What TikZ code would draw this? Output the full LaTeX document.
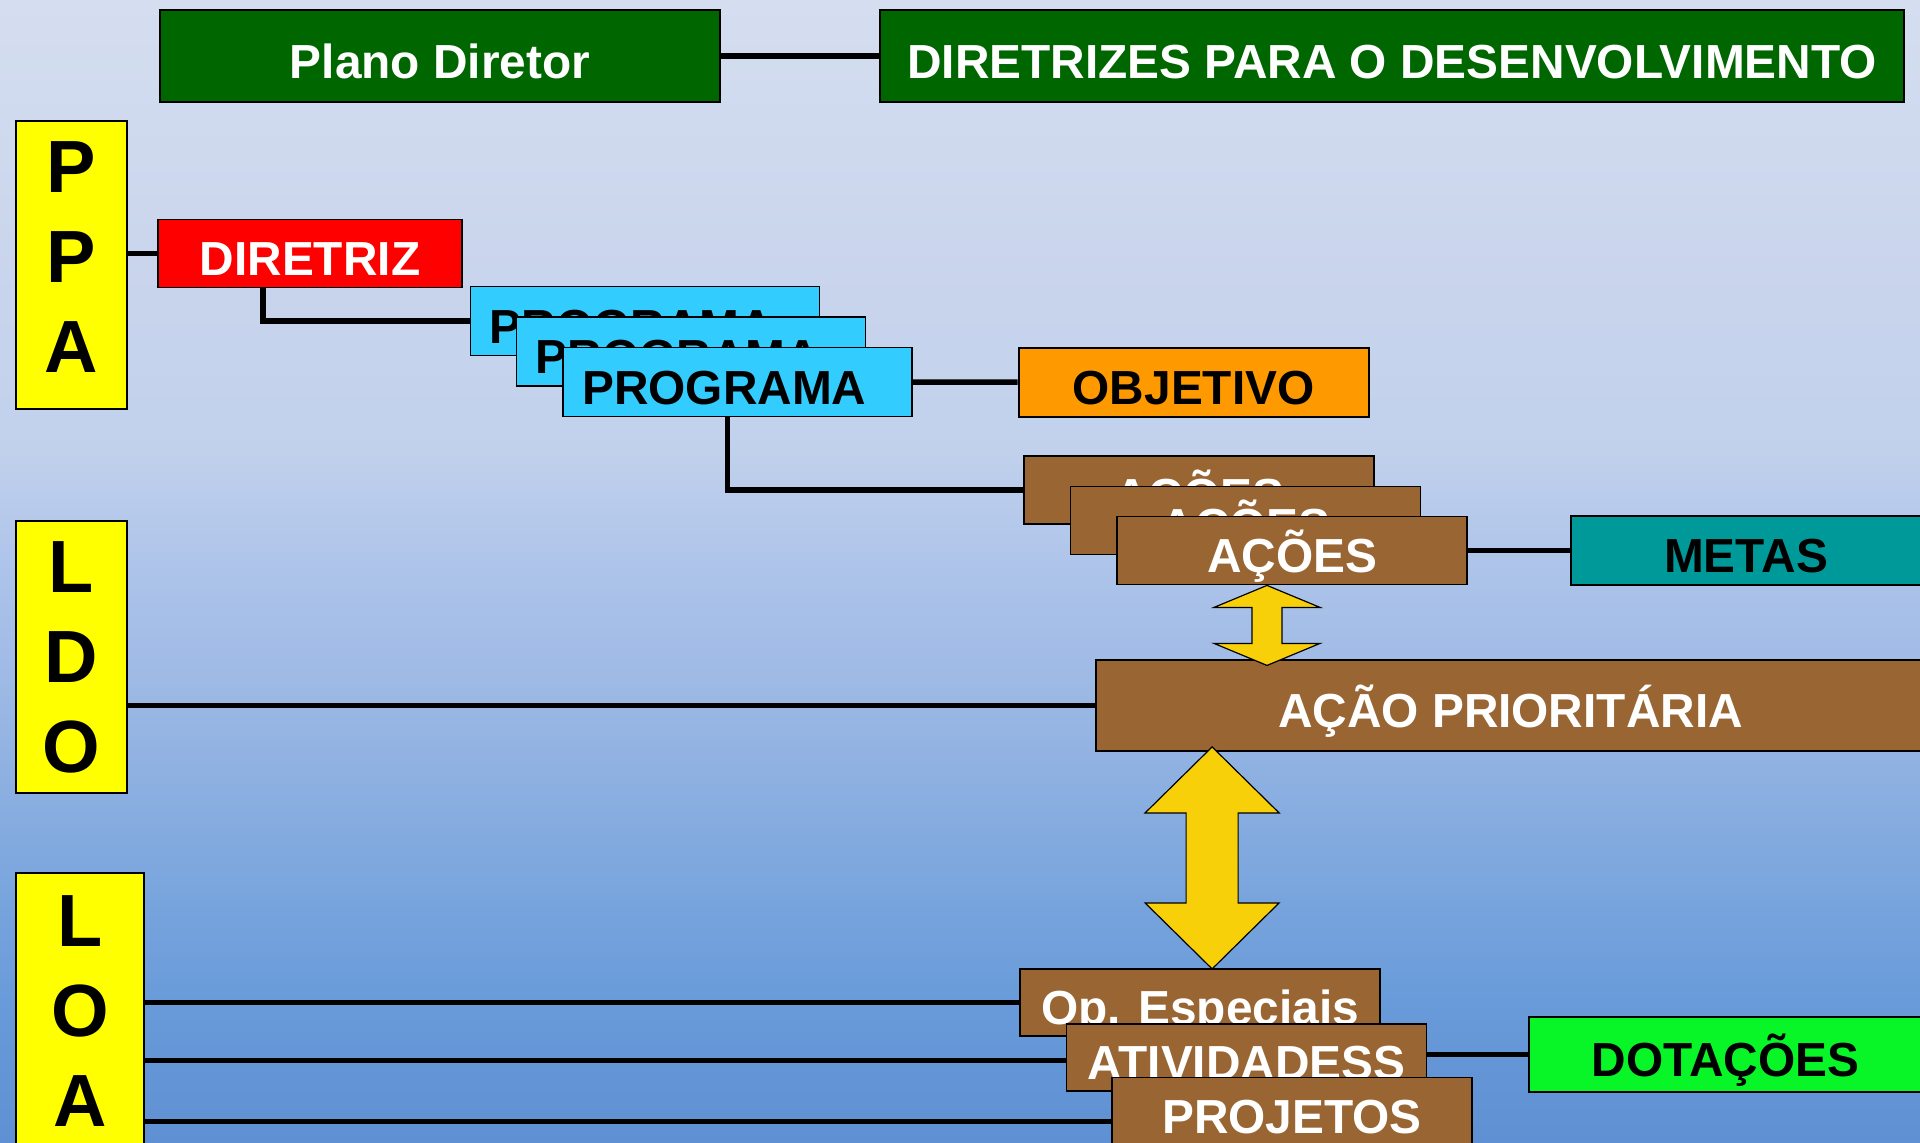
\documentclass[tikz,border=0pt]{standalone}
\usepackage{fontspec}
\setmainfont{Liberation Sans}
\usepackage{tikz}
\usetikzlibrary{calc}

\definecolor{verdeescuro}{RGB}{0,102,0}
\definecolor{vermelho}{RGB}{255,0,0}
\definecolor{ciano}{RGB}{51,204,255}
\definecolor{laranja}{RGB}{255,153,0}
\definecolor{marrom}{RGB}{153,102,51}
\definecolor{petroleo}{RGB}{0,153,153}
\definecolor{verdeclaro}{RGB}{8,245,40}
\definecolor{amarelo}{RGB}{255,255,0}
\definecolor{ouro}{RGB}{248,208,10}
\definecolor{fundoA}{RGB}{94,144,211}
\definecolor{fundoB}{RGB}{105,155,218}
\definecolor{fundoC}{RGB}{120,164,221}
\definecolor{fundoD}{RGB}{155,184,228}
\definecolor{fundoE}{RGB}{174,196,234}
\definecolor{fundoF}{RGB}{193,209,236}
\definecolor{fundoG}{RGB}{200,212,236}
\definecolor{fundoH}{RGB}{213,222,240}
\pgfdeclareverticalshading{fundo}{100bp}{color(0bp)=(fundoA); color(25bp)=(fundoA); color(31.2bp)=(fundoB); color(35.6bp)=(fundoC); color(44.4bp)=(fundoD); color(50.3bp)=(fundoE); color(55.3bp)=(fundoF); color(61.9bp)=(fundoG); color(75bp)=(fundoH); color(100bp)=(fundoH)}

\begin{document}
\begin{tikzpicture}[x=0.5pt,y=-0.5pt,
	caixa/.style={draw=black, line width=0.9pt, inner sep=0pt, text height=22pt, text depth=0pt, font=\fontsize{23.9}{28}\selectfont\bfseries},
	lateral/.style={draw=black, line width=0.9pt, fill=amarelo, inner sep=0pt, align=center, font=\fontsize{37}{45}\selectfont\bfseries},
	ligacao/.style={line width=2.8pt},
	seta/.style={draw=black, line width=0.6pt, fill=ouro, line join=miter}]
	\useasboundingbox (0,0) rectangle (1920,1142);
	\shade[shading=fundo] (0,0) rectangle (1920,1142);
	%
	\node[caixa, fill=verdeescuro, text=white, minimum width=280pt, minimum height=46pt] (plano) at (440,56) {Plano Diretor};
	\node[caixa, fill=verdeescuro, text=white, minimum width=512pt, minimum height=46pt] (desenv) at (1392,56) {DIRETRIZES PARA O DESENVOLVIMENTO};
	\draw[ligacao] (plano) -- (desenv);
	%
	\node[lateral, minimum width=55.5pt, minimum height=144pt] (ppa) at (71.5,265) {};
	\node[lateral, draw=none, fill=none] (ppaletras) at ([yshift=4.2pt]ppa.center) {P\\P\\A};
	\node[lateral, minimum width=55.5pt, minimum height=136pt] (ldo) at (71.5,657) {L\\D\\O};
	\node[lateral, minimum width=64pt, minimum height=138.5pt] (loa) at (80.3,1011.5) {L\\O\\A};
	%
	\node[caixa, fill=vermelho, text=white, minimum width=152pt, minimum height=34pt] (diretriz) at (310,253.5) {DIRETRIZ};
	\draw[ligacao] (ppa.east |- diretriz.west) -- (diretriz.west);
	\node[caixa, fill=ciano, minimum width=174.5pt, minimum height=34.5pt] (prog1) at (645,321) {PROGRAMA\kern13pt};
	\node[caixa, fill=ciano, minimum width=174.5pt, minimum height=34.5pt] (prog2) at (691,351.5) {PROGRAMA\kern13pt};
	\node[caixa, fill=ciano, minimum width=174.5pt, minimum height=34.5pt] (prog3) at (737.3,382) {PROGRAMA\kern13pt};
	\draw[ligacao] ([xshift=-23.5pt]diretriz.south) |- (prog1.west);
	\node[caixa, fill=laranja, minimum width=175pt, minimum height=34.5pt] (objetivo) at (1193.6,382.2) {OBJETIVO};
	\draw[ligacao] (prog3) -- (objetivo);
	%
	\node[caixa, fill=marrom, text=white, minimum width=175pt, minimum height=34pt] (acoes1) at (1199,490) {AÇÕES};
	\node[caixa, fill=marrom, text=white, minimum width=175pt, minimum height=34pt] (acoes2) at (1245.5,520.5) {AÇÕES};
	\node[caixa, fill=marrom, text=white, minimum width=175pt, minimum height=34pt] (acoes3) at (1292,550.5) {AÇÕES};
	\draw[ligacao] ([xshift=-5pt]prog3.south) |- (acoes1.west);
	\node[caixa, fill=petroleo, minimum width=175pt, minimum height=34.5pt] (metas) at (1746,550.5) {METAS};
	\draw[ligacao] (acoes3) -- (metas);
	%
	\node[caixa, fill=marrom, text=white, minimum width=414.5pt, minimum height=45.5pt] (prioritaria) at (1510.5,705.5) {AÇÃO PRIORITÁRIA};
	\draw[ligacao] (ldo.east |- prioritaria.west) -- (prioritaria.west);
	%
	\node[caixa, fill=marrom, text=white, minimum width=180pt, minimum height=33.5pt] (opesp) at (1200,1002.5) {Op. Especiais};
	\node[caixa, fill=marrom, text=white, minimum width=180pt, minimum height=33.5pt] (ativ) at (1246.5,1057.5) {ATIVIDADESS};
	\node[caixa, fill=marrom, text=white, minimum width=180pt, minimum height=34pt] (proj) at (1292,1111.5) {PROJETOS};
	\node[caixa, fill=verdeclaro, minimum width=196.5pt, minimum height=37.5pt] (dotacoes) at (1725.5,1054.5) {DOTAÇÕES};
	\draw[ligacao] (loa.east |- opesp.west) -- (opesp.west);
	\draw[ligacao] (loa.east |- ativ.west) ++(0,3) -- ([yshift=-1.5pt]ativ.west);
	\draw[ligacao] (loa.east |- proj.west) ++(0,10) -- ([yshift=-5pt]proj.west);
	\draw[ligacao] (dotacoes.west -| ativ.east) -- (dotacoes.west);
	%
	\coordinate (cima1) at ($(acoes3.south)+(-25,0)$);
	\draw[seta] (cima1) -- ++(53,22) -- ++(-38,0) -- ++(0,36) -- ++(38,0) -- ++(-53,22) -- ++(-53,-22) -- ++(38,0) -- ++(0,-36) -- ++(-38,0) -- cycle;
	\coordinate (cima2) at ($(prioritaria.south west)+(117,-5)$);
	\draw[seta] (cima2) -- ++(67,66) -- ++(-41,0) -- ++(0,90) -- ++(41,0) -- ++(-67,66) -- ++(-67,-66) -- ++(41,0) -- ++(0,-90) -- ++(-41,0) -- cycle;
\end{tikzpicture}
\end{document}
